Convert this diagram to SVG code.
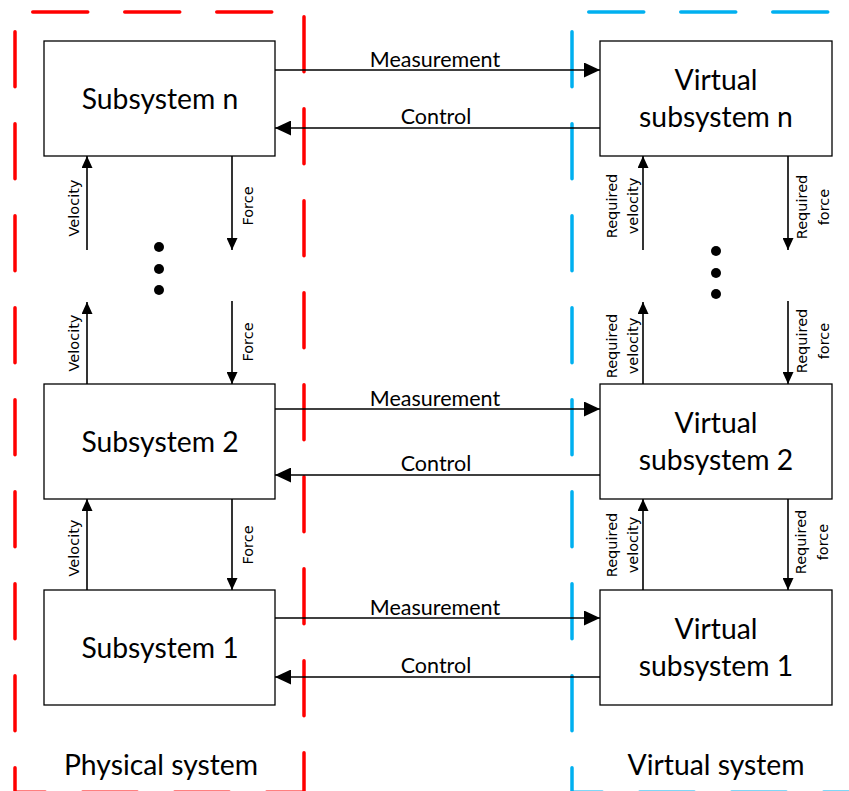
<svg xmlns="http://www.w3.org/2000/svg" width="849" height="791" viewBox="0 0 849 791">
<defs>
<style>
.frame-red{fill:none;stroke:#FF0000;stroke-width:3.5;stroke-linecap:round;stroke-dasharray:55 37}
.frame-blue{fill:none;stroke:#00B0F0;stroke-width:3.5;stroke-linecap:round;stroke-dasharray:55 37}
.box{fill:#FFFFFF;stroke:#000000;stroke-width:1.3}
.big{font-family:Lato,"Liberation Sans",sans-serif;font-size:28.3px;fill:#000;text-anchor:middle}
.lbl{font-family:Lato,"Liberation Sans",sans-serif;font-size:21.5px;fill:#000;text-anchor:middle}
.sm{font-family:"DejaVu Sans",sans-serif;font-size:14.5px;fill:#000;text-anchor:middle}
.h{fill:none;stroke:#000;stroke-width:1.6;marker-end:url(#ah)}
.v{fill:none;stroke:#000;stroke-width:1.6;marker-end:url(#av)}
.dot{fill:#000}
</style>
<marker id="ah" markerUnits="userSpaceOnUse" markerWidth="16" markerHeight="15" refX="16" refY="7.5" orient="auto">
<path d="M0,0 L16,7.5 L0,15 Z" fill="#000"/>
</marker>
<marker id="av" markerUnits="userSpaceOnUse" markerWidth="12" markerHeight="11" refX="12" refY="5.5" orient="auto">
<path d="M0,0 L12,5.5 L0,11 Z" fill="#000"/>
</marker>
</defs>

<g id="physical-system">
<path class="frame-red" d="M15,12 H304 V800" stroke-dashoffset="74.25"/>
<path class="frame-red" d="M15,12 V792.3 H304" stroke-dashoffset="72.25"/>
<text class="big" x="161" y="775">Physical system</text>
</g>

<g id="virtual-system">
<path class="frame-blue" d="M572,12 H870" stroke-dashoffset="75.25"/>
<path class="frame-blue" d="M572,12 V792.3 H870" stroke-dashoffset="72.25"/>
<text class="big" x="716" y="775">Virtual system</text>
</g>

<g id="connectors">
<line class="h" x1="275" y1="70" x2="600" y2="70"/>
<line class="h" x1="600" y1="128" x2="275" y2="128"/>
<line class="h" x1="275" y1="409" x2="600" y2="409"/>
<line class="h" x1="600" y1="475" x2="275" y2="475"/>
<line class="h" x1="275" y1="618" x2="600" y2="618"/>
<line class="h" x1="600" y1="677" x2="275" y2="677"/>
<text class="lbl" x="435" y="67">Measurement</text>
<text class="lbl" x="436" y="124">Control</text>
<text class="lbl" x="435" y="406">Measurement</text>
<text class="lbl" x="436" y="471">Control</text>
<text class="lbl" x="435" y="615">Measurement</text>
<text class="lbl" x="436" y="673">Control</text>

<line class="v" x1="87" y1="250" x2="87" y2="156"/>
<line class="v" x1="232" y1="156" x2="232" y2="250"/>
<line class="v" x1="87" y1="384" x2="87" y2="302"/>
<line class="v" x1="232" y1="301" x2="232" y2="384"/>
<line class="v" x1="87" y1="590" x2="87" y2="499"/>
<line class="v" x1="232" y1="499" x2="232" y2="590"/>
<text class="sm" transform="translate(0,208) rotate(-90)" y="79">Velocity</text>
<text class="sm" transform="translate(0,206) rotate(-90)" y="253">Force</text>
<text class="sm" transform="translate(0,343) rotate(-90)" y="79">Velocity</text>
<text class="sm" transform="translate(0,342) rotate(-90)" y="253">Force</text>
<text class="sm" transform="translate(0,548) rotate(-90)" y="79">Velocity</text>
<text class="sm" transform="translate(0,545) rotate(-90)" y="253">Force</text>

<line class="v" x1="643" y1="250" x2="643" y2="156"/>
<line class="v" x1="788" y1="156" x2="788" y2="250"/>
<line class="v" x1="643" y1="384" x2="643" y2="302"/>
<line class="v" x1="788" y1="301" x2="788" y2="384"/>
<line class="v" x1="643" y1="590" x2="643" y2="499"/>
<line class="v" x1="788" y1="499" x2="788" y2="590"/>
<text class="sm" transform="translate(0,206) rotate(-90)"><tspan x="0" y="617">Required</tspan><tspan x="0" y="638">velocity</tspan></text>
<text class="sm" transform="translate(0,207) rotate(-90)"><tspan x="0" y="807">Required</tspan><tspan x="0" y="829">force</tspan></text>
<text class="sm" transform="translate(0,346) rotate(-90)"><tspan x="0" y="617">Required</tspan><tspan x="0" y="638">velocity</tspan></text>
<text class="sm" transform="translate(0,341) rotate(-90)"><tspan x="0" y="807">Required</tspan><tspan x="0" y="829">force</tspan></text>
<text class="sm" transform="translate(0,545) rotate(-90)"><tspan x="0" y="617">Required</tspan><tspan x="0" y="638">velocity</tspan></text>
<text class="sm" transform="translate(0,542) rotate(-90)"><tspan x="0" y="806">Required</tspan><tspan x="0" y="828">force</tspan></text>

<circle class="dot" cx="159" cy="247" r="5"/>
<circle class="dot" cx="159" cy="269" r="5"/>
<circle class="dot" cx="159" cy="290" r="5"/>
<circle class="dot" cx="716" cy="251" r="5"/>
<circle class="dot" cx="716" cy="273" r="5"/>
<circle class="dot" cx="716" cy="294" r="5"/>
</g>

<g id="subsystem-n">
<rect class="box" x="44" y="41" width="231" height="115"/>
<text class="big" x="160" y="109">Subsystem n</text>
</g>
<g id="subsystem-2">
<rect class="box" x="44" y="384" width="231" height="115"/>
<text class="big" x="160" y="452">Subsystem 2</text>
</g>
<g id="subsystem-1">
<rect class="box" x="44" y="590" width="231" height="115"/>
<text class="big" x="160" y="658">Subsystem 1</text>
</g>
<g id="virtual-subsystem-n">
<rect class="box" x="600" y="41" width="232" height="115"/>
<text class="big" x="716" y="90">Virtual</text>
<text class="big" x="716" y="127">subsystem n</text>
</g>
<g id="virtual-subsystem-2">
<rect class="box" x="600" y="384" width="232" height="115"/>
<text class="big" x="716" y="433">Virtual</text>
<text class="big" x="716" y="470">subsystem 2</text>
</g>
<g id="virtual-subsystem-1">
<rect class="box" x="600" y="590" width="232" height="115"/>
<text class="big" x="716" y="639">Virtual</text>
<text class="big" x="716" y="676">subsystem 1</text>
</g>
</svg>
